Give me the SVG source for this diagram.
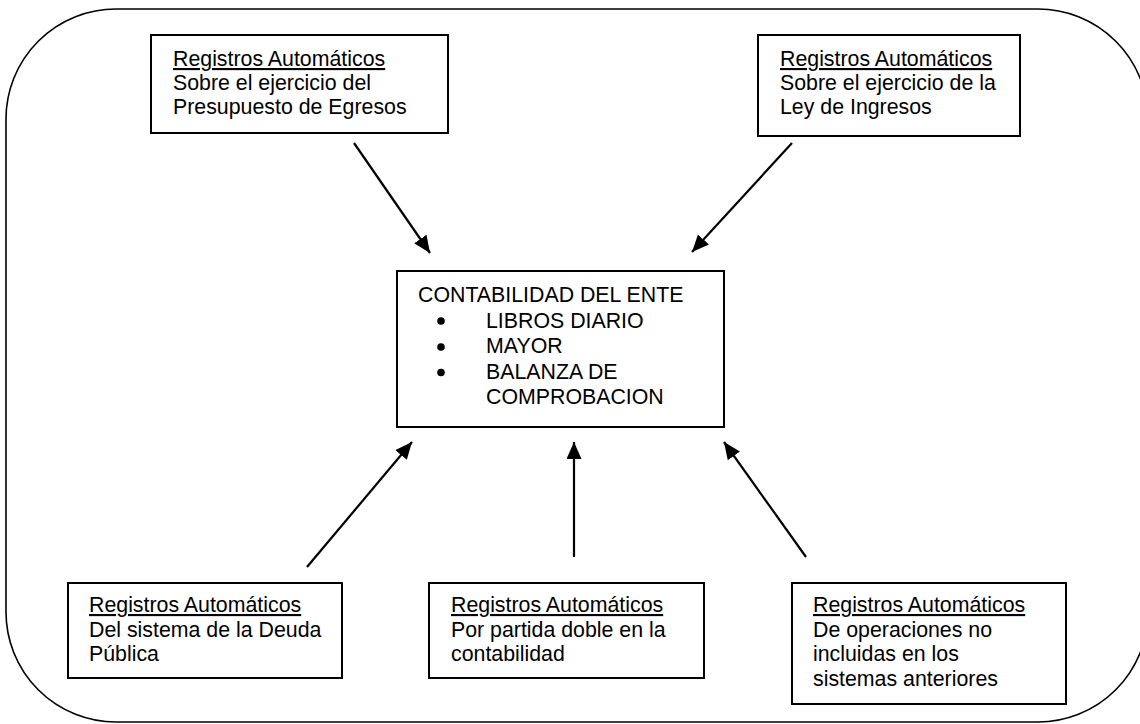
<svg xmlns="http://www.w3.org/2000/svg" width="1140" height="724" viewBox="0 0 1140 724">
<style>
.box{fill:#fff;stroke:#000;stroke-width:2}
.t{font-family:"Liberation Sans",Arial,sans-serif;font-size:21.33px;fill:#000}
.u{text-decoration:underline}
.conn{stroke:#000;stroke-width:2.2;fill:none;marker-end:url(#ah)}
</style>
<defs>
<marker id="ah" markerUnits="userSpaceOnUse" markerWidth="18" markerHeight="16" refX="17" refY="7.5" orient="auto">
<path d="M0,0 L17,7.5 L0,15 z" fill="#000"/>
</marker>
</defs>
<rect width="1140" height="724" fill="#fff"/>
<rect id="frame" x="6" y="9" width="1142" height="713" rx="110" ry="110" fill="none" stroke="#000" stroke-width="1.6"/>
<g id="connectors">
<line class="conn" x1="354" y1="143" x2="430" y2="253"/>
<line class="conn" x1="792" y1="143" x2="692" y2="252"/>
<line class="conn" x1="307" y1="567" x2="412" y2="442"/>
<line class="conn" x1="574" y1="557" x2="574" y2="442"/>
<line class="conn" x1="806" y1="557" x2="724" y2="442"/>
</g>
<g id="egresos">
<rect class="box" x="151" y="35" width="297" height="98"/>
<text class="t"><tspan class="u" x="173" y="66">Registros Automáticos</tspan><tspan x="173" y="90">Sobre el ejercicio del</tspan><tspan x="173" y="114">Presupuesto de Egresos</tspan></text>
</g>
<g id="ingresos">
<rect class="box" x="758" y="35" width="262" height="101"/>
<text class="t"><tspan class="u" x="780" y="66">Registros Automáticos</tspan><tspan x="780" y="90">Sobre el ejercicio de la</tspan><tspan x="780" y="114">Ley de Ingresos</tspan></text>
</g>
<g id="contabilidad">
<rect class="box" x="397" y="271" width="327" height="156"/>
<text class="t" x="418" y="302">CONTABILIDAD DEL ENTE</text>
<circle cx="441" cy="321" r="3.8"/>
<circle cx="441" cy="347" r="3.8"/>
<circle cx="441" cy="372.5" r="3.8"/>
<text class="t"><tspan x="486" y="327.5">LIBROS DIARIO</tspan><tspan x="486" y="353">MAYOR</tspan><tspan x="486" y="378.5">BALANZA DE</tspan><tspan x="486" y="403.5">COMPROBACION</tspan></text>
</g>
<g id="deuda">
<rect class="box" x="68" y="583" width="274" height="95"/>
<text class="t"><tspan class="u" x="89" y="612">Registros Automáticos</tspan><tspan x="89" y="637">Del sistema de la Deuda</tspan><tspan x="89" y="661">Pública</tspan></text>
</g>
<g id="partida">
<rect class="box" x="429" y="583" width="275" height="95"/>
<text class="t"><tspan class="u" x="451" y="612">Registros Automáticos</tspan><tspan x="451" y="637">Por partida doble en la</tspan><tspan x="451" y="661">contabilidad</tspan></text>
</g>
<g id="operaciones">
<rect class="box" x="792" y="583" width="274" height="121"/>
<text class="t"><tspan class="u" x="813" y="612">Registros Automáticos</tspan><tspan x="813" y="637">De operaciones no</tspan><tspan x="813" y="661">incluidas en los</tspan><tspan x="813" y="686">sistemas anteriores</tspan></text>
</g>
</svg>
